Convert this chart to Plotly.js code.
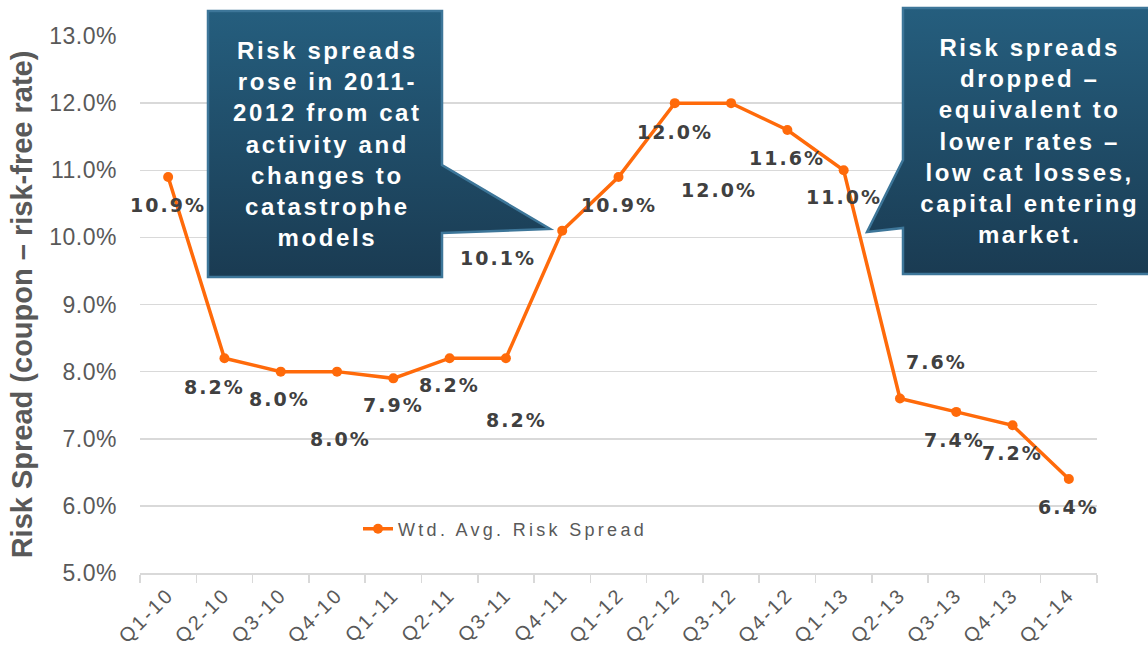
<!DOCTYPE html>
<html>
<head>
<meta charset="utf-8">
<script src="https://cdn.plot.ly/plotly-3.0.1.min.js"></script>
<style>
  html, body { margin: 0; padding: 0; background: #ffffff; }
  #chart { width: 1148px; height: 649px; }
  .ytick text { letter-spacing: 0.5px; }
  .xtick text { letter-spacing: 2.5px; }
  .legendtext { letter-spacing: 3.3px; }
  .annotation-text { letter-spacing: 2px; }
  .annotation[data-index="17"] .annotation-text,
  .annotation[data-index="18"] .annotation-text { letter-spacing: 2.6px; }
</style>
</head>
<body>
<div id="chart"></div>
<script>
// ---- data ----
const categories = ['Q1-10','Q2-10','Q3-10','Q4-10','Q1-11','Q2-11','Q3-11','Q4-11',
                    'Q1-12','Q2-12','Q3-12','Q4-12','Q1-13','Q2-13','Q3-13','Q4-13','Q1-14'];
const spread = [10.9, 8.2, 8.0, 8.0, 7.9, 8.2, 8.2, 10.1, 10.9, 12.0, 12.0, 11.6, 11.0, 7.6, 7.4, 7.2, 6.4];
const seriesName = 'Wtd. Avg. Risk Spread';
const yTitle = 'Risk Spread (coupon \u2013 risk-free rate)';
const callout1 = 'Risk spreads<br>rose in 2011-<br>2012 from cat<br>activity and<br>changes to<br>catastrophe<br>models';
const callout2 = 'Risk spreads<br>dropped \u2013<br>equivalent to<br>lower rates \u2013<br>low cat losses,<br>capital entering<br>market.';

// ---- label placement (pixel offsets from each point) ----
const labelDx = [0, -10, -1, 3, 0, 0, 11, -64, 0, 0, -12, 0, 0, 37, -2, 0, 0];
const labelDy = [28, 29, 27, 67, 27, 27, 62, 27, 28, 29, 87, 28, 27, -36, 28, 28, 28];

// ---- geometry helpers (plot area in pixels) ----
const L = 140, R = 1097, T = 36, B = 573;
const W = R - L, H = B - T;
const px = x => (x - L) / W;
const py = y => (B - y) / H;

// callout background (decoration) as an svg image
const svg =
  "<svg xmlns='http://www.w3.org/2000/svg' width='1148' height='649' viewBox='0 0 1148 649' preserveAspectRatio='none'>" +
  "<defs><linearGradient id='g' x1='0' y1='0' x2='0' y2='1'>" +
  "<stop offset='0' stop-color='#255e7e'/><stop offset='1' stop-color='#1a3b52'/></linearGradient></defs>" +
  "<path d='M208,11 L442,11 L442,165 L550,229 L442,233 L442,277 L208,277 Z' fill='url(#g)' stroke='#3d7699' stroke-width='2.5'/>" +
  "<path d='M903,8 L1152,8 L1152,274 L903,274 L903,228 L867,232 L903,160 Z' fill='url(#g)' stroke='#3d7699' stroke-width='2.5'/>" +
  "</svg>";
const svgUri = 'data:image/svg+xml;charset=utf-8,' + encodeURIComponent(svg);

const labelFont = { family: 'DejaVu Sans', size: 19, color: '#404040', weight: 'bold' };

const annotations = spread.map((v, i) => ({
  x: categories[i], y: v, xref: 'x', yref: 'y',
  text: v.toFixed(1) + '%',
  showarrow: false,
  xanchor: 'center', yanchor: 'middle',
  xshift: labelDx[i], yshift: -labelDy[i],
  font: labelFont
}));

const boxFont = { family: 'Liberation Sans, Arial, sans-serif', size: 24, color: '#ffffff', weight: 'bold' };
annotations.push({
  xref: 'paper', yref: 'paper', x: px(327), y: py(144),
  xanchor: 'center', yanchor: 'middle', showarrow: false, align: 'center',
  text: callout1, font: boxFont
});
annotations.push({
  xref: 'paper', yref: 'paper', x: px(1029), y: py(141),
  xanchor: 'center', yanchor: 'middle', showarrow: false, align: 'center',
  text: callout2, font: boxFont
});

const trace = {
  type: 'scatter', mode: 'lines+markers',
  x: categories, y: spread, name: seriesName,
  line: { color: '#ff6a0a', width: 3.5 },
  marker: { color: '#ff6a0a', size: 10 },
  hoverinfo: 'skip', cliponaxis: false
};

const layout = {
  width: 1148, height: 649,
  margin: { l: L, r: 1148 - R, t: T, b: 649 - B, pad: 0 },
  paper_bgcolor: '#ffffff', plot_bgcolor: '#ffffff',
  font: { family: 'Liberation Sans, Arial, sans-serif', color: '#595959' },
  showlegend: true,
  legend: {
    x: px(358), y: py(529), xanchor: 'left', yanchor: 'middle',
    bgcolor: 'rgba(0,0,0,0)', borderwidth: 0,
    font: { family: 'Liberation Sans, Arial, sans-serif', size: 18, color: '#595959' },
    itemwidth: 30
  },
  xaxis: {
    type: 'category', range: [-0.5, categories.length - 0.5],
    showgrid: false, zeroline: false,
    showline: true, linecolor: '#d9d9d9', linewidth: 2,
    ticks: 'outside', tickson: 'boundaries', ticklen: 8, tickcolor: '#d9d9d9', tickwidth: 1.5,
    tickangle: -45,
    tickfont: { family: 'Liberation Sans, Arial, sans-serif', size: 20, color: '#595959' },
    automargin: false, fixedrange: true
  },
  yaxis: {
    range: [5, 13], dtick: 1, tick0: 5,
    tickformat: '.1f', ticksuffix: '%',
    showgrid: true, gridcolor: '#d9d9d9', gridwidth: 1.5,
    zeroline: false, showline: false, ticks: '',
    ticklabelstandoff: 22,
    tickfont: { family: 'Liberation Sans, Arial, sans-serif', size: 23, color: '#595959' },
    title: { text: yTitle, standoff: 8,
             font: { family: 'Liberation Sans, Arial, sans-serif', size: 29, color: '#595959', weight: 'bold' } },
    automargin: false, fixedrange: true
  },
  images: [{
    source: svgUri, xref: 'paper', yref: 'paper',
    x: px(0), y: py(0), sizex: 1148 / W, sizey: 649 / H,
    xanchor: 'left', yanchor: 'top', sizing: 'stretch', layer: 'above', opacity: 1
  }],
  annotations: annotations
};

Plotly.newPlot('chart', [trace], layout, { displayModeBar: false, staticPlot: true });
</script>
</body>
</html>
